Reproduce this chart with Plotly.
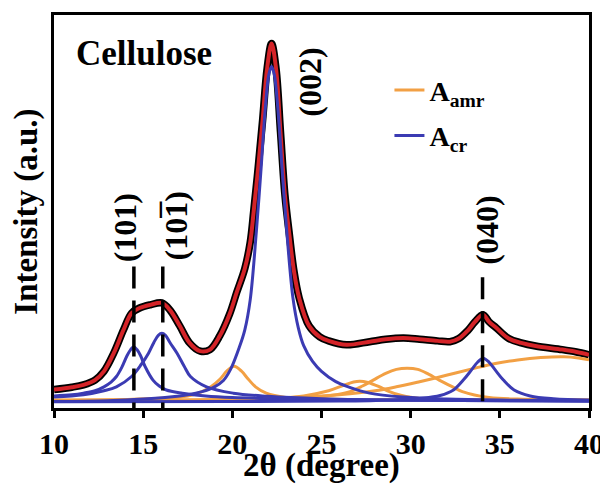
import plotly.graph_objects as go

# ---- data (2theta in degrees, intensity in arbitrary units) ----
obs_x = [10.0, 11.0, 11.65, 12.3, 12.8, 13.35, 13.9, 14.35, 14.8, 15.4, 16.05, 16.5, 17.05, 17.6, 18.2,
         18.75, 19.3, 19.85, 20.25, 20.7, 21.0, 21.2, 21.45, 21.7, 21.95, 22.2, 22.45, 22.7, 22.95, 23.2,
         23.45, 23.75, 24.3, 24.9, 25.4, 26.4, 27.7, 28.6, 29.6, 30.5, 31.5, 32.2, 32.7, 33.2, 33.6,
         34.05, 34.4, 34.8, 35.5, 36.2, 37.0, 38.5, 39.3, 40.0]
obs_y = [4.9, 5.5, 6.1, 7.3, 9.5, 14.1, 20.0, 24.2, 25.5, 26.3, 26.8, 25.0, 21.0, 16.7, 14.6,
         15.0, 18.5, 24.0, 29.5, 35.5, 42.0, 50.0, 61.0, 73.0, 86.0, 92.3, 86.0, 70.0, 54.0, 44.0,
         35.0, 28.0, 21.0, 18.2, 17.2, 16.2, 17.0, 17.6, 17.9, 17.6, 17.2, 17.0, 17.8, 19.8, 22.0,
         23.8, 22.0, 20.5, 17.8, 16.7, 15.9, 15.0, 14.4, 13.7]
fit_x = obs_x
fit_y = obs_y

# crystalline peaks (A_cr)
cr101_x = [10, 11, 11.65, 12.3, 12.8, 13.2, 13.5, 13.8, 14.1, 14.3, 14.47, 14.65, 14.85, 15.1, 15.55,
           15.9, 16.3, 17.2, 18.5, 20, 25, 30, 40]
cr101_y = [3.3, 3.6, 4.0, 4.6, 5.6, 6.8, 8.2, 10.5, 13.5, 15.0, 15.7, 15.0, 13.5, 10.8, 7.3,
           5.8, 4.8, 4.0, 3.3, 2.9, 2.4, 2.2, 2.0]
cr10m1_x = [10, 11.65, 12.8, 13.5, 14.35, 14.9, 15.3, 15.6, 15.85, 16.05, 16.25, 16.5, 16.9, 17.3,
            17.65, 18.55, 20.05, 22, 25, 30, 40]
cr10m1_y = [3.0, 3.6, 4.6, 5.6, 8.2, 11.3, 14.1, 16.8, 18.6, 19.1, 18.6, 16.8, 14.1, 10.8,
            8.2, 5.6, 4.0, 3.2, 2.6, 2.2, 2.0]
cr002_x = [10, 13, 15, 16.5, 17.5, 18.3, 19.0, 19.5, 19.9, 20.4, 20.7, 21.0, 21.35, 21.6, 21.85,
           22.05, 22.2, 22.35, 22.55, 22.8, 23.05, 23.4, 23.7, 24.0, 24.5, 25.0, 25.8, 26.5, 27.7,
           29.6, 32, 36, 40]
cr002_y = [1.9, 2.1, 2.5, 3.0, 3.6, 4.4, 5.6, 7.2, 10.0, 15.7, 20.0, 27.5, 45.0, 60.0, 76.0,
           84.5, 86.5, 84.5, 76.0, 60.0, 45.0, 28.0, 20.5, 16.0, 12.0, 9.5, 6.9, 5.6, 4.0,
           3.0, 2.5, 2.2, 2.0]
cr040_x = [10, 20, 26, 29, 30.6, 31.65, 32.4, 32.95, 33.4, 33.75, 34.06, 34.4, 34.75, 35.2, 35.8,
           36.7, 38, 40]
cr040_y = [1.8, 1.9, 2.0, 2.3, 2.7, 3.4, 4.8, 7.3, 9.8, 11.8, 12.8, 11.8, 9.8, 7.3, 4.8,
           3.3, 2.6, 2.3]

# amorphous contributions (A_amr)
am1_x = [10, 14, 16, 17.5, 18.3, 18.8, 19.3, 19.7, 20.1, 20.5, 20.9, 21.3, 21.9, 23, 25, 30, 40]
am1_y = [2.2, 2.4, 2.7, 3.3, 4.4, 5.6, 7.5, 9.6, 10.8, 9.6, 7.5, 5.6, 4.0, 2.9, 2.5, 2.3, 2.2]
am2_x = [10, 18, 22, 24, 25.4, 26.2, 26.8, 27.15, 27.6, 28.2, 28.7, 29.5, 30.6, 32, 35, 40]
am2_y = [2.2, 2.3, 2.6, 3.3, 4.6, 5.9, 6.8, 7.0, 6.7, 5.7, 4.6, 3.4, 2.6, 2.3, 2.2, 2.2]
am3_x = [10, 20, 24, 25.5, 26.6, 27.3, 27.9, 28.6, 29.2, 29.8, 30.4, 31.0, 31.6, 32.3, 32.9, 34.4, 36, 40]
am3_y = [2.2, 2.4, 2.8, 3.4, 4.4, 5.8, 7.3, 9.0, 10.0, 10.3, 10.0, 8.8, 7.3, 5.7, 4.4, 2.9, 2.5, 2.3]
am4_x = [10, 16, 20, 22, 24, 26, 28, 29.2, 30.5, 32, 33.5, 34.75, 36, 37.3, 38.6, 39.4, 40]
am4_y = [2.0, 2.1, 2.3, 2.6, 3.0, 3.6, 4.6, 5.6, 6.9, 8.5, 10.2, 11.5, 12.4, 13.0, 13.2, 12.9, 12.4]

# reflections: position, top of the dashed marker
refl_pos = [14.48, 16.1, 34.03]
refl_top = [36.0, 36.0, 33.3]
# Miller-index labels and their centres (x in degrees, y in intensity units)
label_text = ["(101)", "(101)", "(002)", "(040)"]
label_bar = [False, True, False, False]   # overbar on the last index
label_x = [14.0, 16.83, 24.38, 34.26]
label_y = [45.7, 46.3, 82.5, 45.2]

x_ticks = [10, 15, 20, 25, 30, 35, 40]

ORANGE = "#F2A044"
BLUE = "#3B3BB3"
RED = "#D42328"
FONT = "Liberation Serif"
CLEAR = "<span style='color:rgba(0,0,0,0)'>"

fig = go.Figure()

fig.add_trace(go.Scatter(x=obs_x, y=obs_y, mode="lines", line=dict(color="black", width=7.5, shape="spline"),
                         showlegend=False, hoverinfo="skip"))
fig.add_trace(go.Scatter(x=fit_x, y=fit_y, mode="lines", line=dict(color=RED, width=4, shape="spline"),
                         showlegend=False, hoverinfo="skip"))

for i, (xx, yy) in enumerate([(am1_x, am1_y), (am2_x, am2_y), (am3_x, am3_y), (am4_x, am4_y)]):
    fig.add_trace(go.Scatter(x=xx, y=yy, mode="lines", line=dict(color=ORANGE, width=3, shape="spline"),
                             name="A<sub>amr</sub>", legendgroup="amr", showlegend=(i == 0), legendrank=1))
for i, (xx, yy) in enumerate([(cr101_x, cr101_y), (cr10m1_x, cr10m1_y), (cr002_x, cr002_y), (cr040_x, cr040_y)]):
    fig.add_trace(go.Scatter(x=xx, y=yy, mode="lines", line=dict(color=BLUE, width=3, shape="spline"),
                             name="A<sub>cr</sub>", legendgroup="cr", showlegend=(i == 0), legendrank=2))

for xp, yt in zip(refl_pos, refl_top):
    fig.add_trace(go.Scatter(x=[xp, xp], y=[yt, 0.25], mode="lines",
                             line=dict(color="black", width=3.5, dash="22px,12px"),
                             showlegend=False, hoverinfo="skip"))

LABEL_FONT = dict(family=FONT, size=32, color="black")
for t, bar, lx, ly in zip(label_text, label_bar, label_x, label_y):
    fig.add_annotation(x=lx, y=ly, text="<b>" + t + "</b>", showarrow=False, textangle=-90,
                       font=LABEL_FONT, xanchor="center", yanchor="middle")
    if bar:
        # overbar on the last index: same text, all glyphs clear except a macron in place of the last digit
        fig.add_annotation(x=lx, y=ly, text="<b>" + CLEAR + t[:-2] + "</span>\u00af" + CLEAR + ")</span></b>",
                           showarrow=False, textangle=-90, font=LABEL_FONT, xanchor="center",
                           yanchor="middle", xshift=-3)

fig.add_annotation(xref="paper", yref="paper", x=0.037, y=0.901, text="<b>Cellulose</b>", showarrow=False,
                   xanchor="left", yanchor="middle", font=dict(family=FONT, size=35, color="black"))

# axis titles
fig.add_annotation(xref="paper", yref="paper", x=0.5, y=-0.146, text="<b>2\u03b8 (degree)</b>", showarrow=False,
                   xanchor="center", yanchor="middle", font=dict(family=FONT, size=33, color="black"))
fig.add_annotation(xref="paper", yref="paper", x=-0.052, y=0.5, text="<b>Intensity (a.u.)</b>",
                   showarrow=False, textangle=-90, xanchor="center", yanchor="middle",
                   font=dict(family=FONT, size=33, color="black"))

# the page body adds an 8 px margin, so the figure is 8 px smaller and the margins are shifted by 8 px
fig.update_layout(
    width=600, height=478,
    margin=dict(l=46, r=19, t=7, b=78, autoexpand=False),
    paper_bgcolor="white", plot_bgcolor="white",
    font=dict(family=FONT, color="black"),
    legend=dict(x=0.627, y=0.872, xanchor="left", yanchor="top", bgcolor="rgba(0,0,0,0)",
                font=dict(family=FONT, size=28, color="black", weight="bold"),
                traceorder="grouped", tracegroupgap=6),
)
fig.update_xaxes(range=[10, 40], tickvals=x_ticks, ticktext=[str(v) for v in x_ticks],
                 showgrid=False, zeroline=False, showline=True, linecolor="black", linewidth=3,
                 mirror=True, ticks="outside", ticklen=7, tickwidth=3, tickcolor="black", automargin=False,
                 tickfont=dict(family=FONT, size=30, color="black", weight="bold"))
fig.update_yaxes(range=[0.25, 99.5], showticklabels=False, ticks="", showgrid=False, zeroline=False,
                 showline=True, linecolor="black", linewidth=3, mirror=True, automargin=False)

fig.write_html("out.html")
